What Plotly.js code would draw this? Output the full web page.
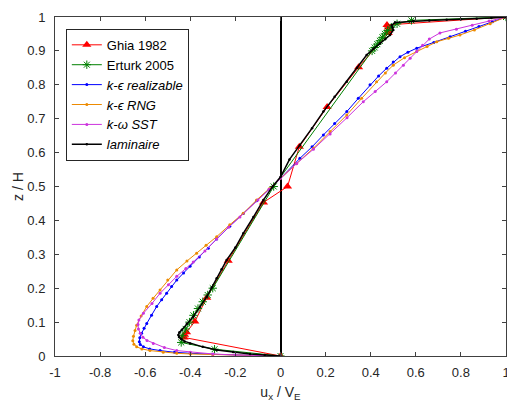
<!DOCTYPE html>
<html>
<head>
<meta charset="utf-8">
<script src="https://cdn.plot.ly/plotly-3.0.1.min.js"></script>
<style>html,body{margin:0;padding:0;background:#fff;}#chart{width:507px;height:402px;}</style>
</head>
<body>
<div id="chart"></div>
<script>
// Ghia 1982 (Re = 10000)
const ghiaZ = [1.0, 0.9766, 0.9688, 0.9609, 0.9531, 0.8516, 0.7344, 0.6172, 0.5, 0.4531, 0.2813, 0.1719, 0.1016, 0.0703, 0.0625, 0.0547, 0.0];
const ghiaU = [1, 0.47221, 0.47783, 0.48070, 0.47804, 0.34635, 0.20673, 0.08344, 0.03111, -0.07540, -0.23186, -0.32709, -0.38000, -0.41657, -0.42537, -0.42735, 0];

// Erturk 2005
const erturkZ = [1.00, 0.99, 0.98, 0.97, 0.96, 0.95, 0.94, 0.93, 0.92, 0.91, 0.90, 0.50, 0.20, 0.18, 0.16, 0.14, 0.12, 0.10, 0.08, 0.06, 0.04, 0.02, 0.00];
const erturkU = [1, 0.5808, 0.5169, 0.4913, 0.4751, 0.4629, 0.4518, 0.4407, 0.4293, 0.4177, 0.4061, -0.0302, -0.3005, -0.3229, -0.3448, -0.3660, -0.3859, -0.4038, -0.4207, -0.4359, -0.4403, -0.2924, 0];

// k-epsilon realizable
const realU = [0, -0.1, -0.2, -0.3, -0.4, -0.47, -0.534, -0.58, -0.608, -0.622, -0.626, -0.624, -0.616, -0.605, -0.593, -0.572, -0.549, -0.527, -0.505, -0.483, -0.46, -0.43, -0.401, -0.36, -0.32, -0.283, -0.225, -0.165, -0.106, -0.05, 0, 0.086, 0.14, 0.19, 0.24, 0.294, 0.345, 0.397, 0.435, 0.471, 0.5, 0.53, 0.565, 0.604, 0.68, 0.752, 0.82, 0.88, 0.94, 1];
const realZ = [0, 0.001, 0.003, 0.005, 0.008, 0.011, 0.016, 0.021, 0.027, 0.034, 0.042, 0.054, 0.067, 0.082, 0.096, 0.12, 0.146, 0.166, 0.185, 0.205, 0.224, 0.245, 0.265, 0.292, 0.318, 0.345, 0.383, 0.42, 0.458, 0.492, 0.524, 0.583, 0.617, 0.652, 0.686, 0.721, 0.76, 0.8, 0.826, 0.849, 0.867, 0.883, 0.896, 0.908, 0.925, 0.942, 0.958, 0.972, 0.986, 1];

// k-epsilon RNG
const rngU = [0, -0.1, -0.2, -0.3, -0.4, -0.46, -0.52, -0.579, -0.615, -0.638, -0.65, -0.655, -0.652, -0.645, -0.638, -0.618, -0.593, -0.565, -0.534, -0.5, -0.46, -0.415, -0.372, -0.33, -0.283, -0.225, -0.165, -0.106, -0.05, 0, 0.07, 0.146, 0.22, 0.294, 0.36, 0.426, 0.465, 0.5, 0.55, 0.604, 0.65, 0.693, 0.745, 0.796, 0.86, 0.93, 1];
const rngZ = [0, 0.001, 0.002, 0.004, 0.006, 0.008, 0.011, 0.016, 0.021, 0.027, 0.035, 0.045, 0.058, 0.075, 0.091, 0.118, 0.146, 0.17, 0.195, 0.224, 0.254, 0.28, 0.303, 0.327, 0.352, 0.387, 0.421, 0.46, 0.493, 0.524, 0.567, 0.613, 0.662, 0.711, 0.76, 0.809, 0.835, 0.858, 0.88, 0.898, 0.913, 0.927, 0.937, 0.947, 0.962, 0.98, 1];

// k-omega SST
const sstU = [0, -0.1, -0.2, -0.3, -0.4, -0.46, -0.515, -0.564, -0.592, -0.61, -0.622, -0.63, -0.632, -0.628, -0.608, -0.57, -0.534, -0.497, -0.46, -0.42, -0.387, -0.335, -0.283, -0.23, -0.18, -0.1, -0.05, 0, 0.072, 0.146, 0.22, 0.295, 0.367, 0.42, 0.471, 0.51, 0.545, 0.575, 0.604, 0.63, 0.66, 0.707, 0.78, 0.85, 0.925, 1];
const sstZ = [0, 0.001, 0.003, 0.006, 0.011, 0.016, 0.025, 0.037, 0.046, 0.055, 0.067, 0.08, 0.093, 0.106, 0.126, 0.155, 0.185, 0.21, 0.235, 0.258, 0.277, 0.31, 0.345, 0.38, 0.41, 0.46, 0.492, 0.525, 0.568, 0.61, 0.655, 0.703, 0.75, 0.78, 0.809, 0.835, 0.858, 0.878, 0.898, 0.917, 0.935, 0.953, 0.964, 0.976, 0.988, 1];

// laminaire
const lamU = [0, -0.07, -0.135, -0.21, -0.283, -0.345, -0.401, -0.425, -0.44, -0.45, -0.453, -0.448, -0.438, -0.415, -0.387, -0.357, -0.327, -0.305, -0.283, -0.261, -0.239, -0.2, -0.165, -0.12, -0.076, -0.035, 0, 0.04, 0.086, 0.14, 0.19, 0.24, 0.294, 0.34, 0.382, 0.412, 0.441, 0.465, 0.486, 0.5, 0.497, 0.493, 0.508, 0.589, 0.66, 0.737, 0.8, 0.87, 0.935, 1];
const lamZ = [0, 0.003, 0.006, 0.012, 0.018, 0.027, 0.037, 0.043, 0.05, 0.056, 0.062, 0.07, 0.077, 0.095, 0.116, 0.145, 0.175, 0.202, 0.229, 0.256, 0.283, 0.32, 0.362, 0.41, 0.46, 0.5, 0.528, 0.58, 0.622, 0.672, 0.721, 0.765, 0.809, 0.85, 0.888, 0.906, 0.922, 0.935, 0.947, 0.962, 0.969, 0.976, 0.984, 0.988, 0.99, 0.992, 0.993, 0.995, 0.997, 1];

const xTicks = [-1, -0.8, -0.6, -0.4, -0.2, 0, 0.2, 0.4, 0.6, 0.8, 1];
const xTickText = ['-1', '-0.8', '-0.6', '-0.4', '-0.2', '0', '0.2', '0.4', '0.6', '0.8', '1'];
const yTicks = [0, 0.1, 0.2, 0.3, 0.4, 0.5, 0.6, 0.7, 0.8, 0.9, 1];
const yTickText = ['0', '0.1', '0.2', '0.3', '0.4', '0.5', '0.6', '0.7', '0.8', '0.9', '1'];

const traces = [
  {x: ghiaU, y: ghiaZ, name: 'Ghia 1982', mode: 'lines+markers',
   line: {color: '#ff0000', width: 1}, marker: {symbol: 'triangle-up', size: 8, color: '#ff0000'}},
  {x: erturkU, y: erturkZ, name: 'Erturk 2005', mode: 'lines+markers',
   line: {color: '#008000', width: 1}, marker: {symbol: 'asterisk-open', size: 7, color: '#008000', line: {color: '#008000', width: 1}}},
  {x: realU, y: realZ, name: '<i>k-ϵ realizable</i>', mode: 'lines+markers',
   line: {color: '#0000ff', width: 1}, marker: {symbol: 'circle', size: 3, color: '#0000ff'}},
  {x: rngU, y: rngZ, name: '<i>k-ϵ RNG</i>', mode: 'lines+markers',
   line: {color: '#ed8b00', width: 1}, marker: {symbol: 'circle', size: 3, color: '#ed8b00'}},
  {x: sstU, y: sstZ, name: '<i>k-ω SST</i>', mode: 'lines+markers',
   line: {color: '#cc33dd', width: 1}, marker: {symbol: 'circle', size: 3, color: '#cc33dd'}},
  {x: lamU, y: lamZ, name: '<i>laminaire</i>', mode: 'lines+markers',
   line: {color: '#000000', width: 1.5}, marker: {symbol: 'circle', size: 2.5, color: '#000000'}}
];

const axisCommon = {
  showline: true, linecolor: '#404040', linewidth: 1, mirror: 'ticks',
  ticks: 'inside', ticklen: 4, tickwidth: 1, tickcolor: '#404040',
  showgrid: false, ticklabeloverflow: 'allow',
  tickfont: {family: 'Liberation Sans, Arial, sans-serif', size: 13, color: '#262626'}
};

const layout = {
  width: 507, height: 402,
  margin: {l: 55, r: 1, t: 17, b: 46},
  paper_bgcolor: '#ffffff', plot_bgcolor: '#ffffff',
  font: {family: 'Liberation Sans, Arial, sans-serif', color: '#262626'},
  xaxis: Object.assign({}, axisCommon, {
    range: [-1, 1], tickvals: xTicks, ticktext: xTickText,
    zeroline: true, zerolinecolor: '#000000', zerolinewidth: 2,
    ticklabelstandoff: 4,
    title: {text: 'u<sub>x</sub> / V<sub>E</sub>', font: {size: 14, color: '#262626'}, standoff: 8}
  }),
  yaxis: Object.assign({}, axisCommon, {
    range: [0, 1], tickvals: yTicks, ticktext: yTickText, zeroline: false,
    ticklabelstandoff: 6,
    title: {text: 'z / H', font: {size: 14, color: '#262626'}, standoff: 0}
  }),
  showlegend: true,
  legend: {x: 0.024, y: 0.965, xanchor: 'left', yanchor: 'top',
    bgcolor: '#ffffff', bordercolor: '#262626', borderwidth: 1,
    font: {family: 'Liberation Sans, Arial, sans-serif', size: 13, color: '#000000'},
    itemwidth: 30, tracegroupgap: 0}
};

Plotly.newPlot('chart', traces, layout, {displayModeBar: false, staticPlot: true});
</script>
</body>
</html>
